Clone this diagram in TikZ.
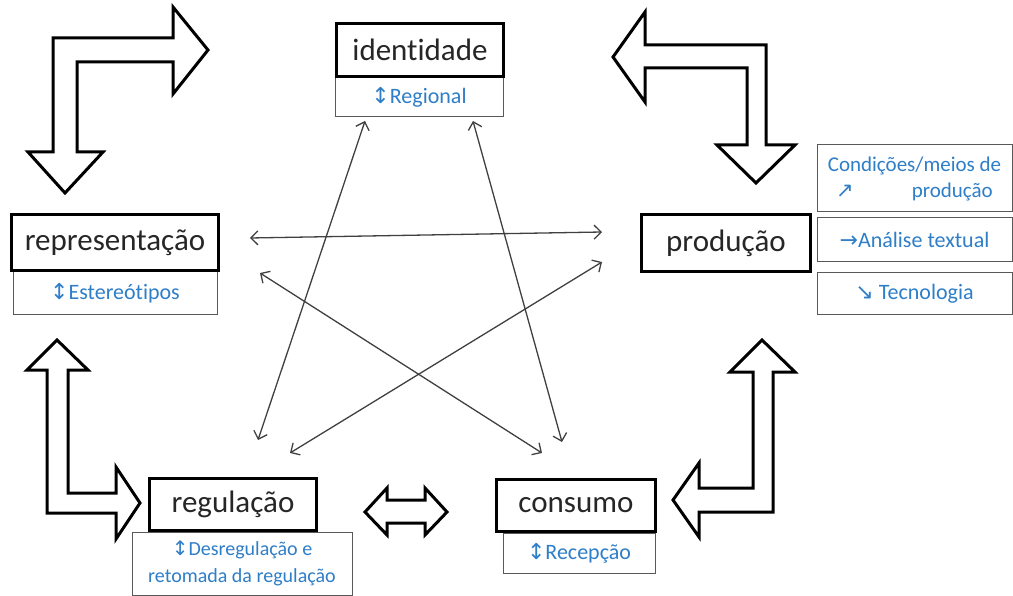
\documentclass[tikz,border=0pt]{standalone}
\usepackage{fontspec}
\setmainfont{Carlito}[Ligatures=NoCommon]
\newfontfamily\arrowfont{DejaVu Sans}
\usetikzlibrary{arrows.meta}
\definecolor{labelblue}{RGB}{46,126,200}
\definecolor{textgrey}{RGB}{38,38,38}
\begin{document}
\begin{tikzpicture}[x=1pt,y=-1pt,line join=miter,
	mainbox/.style={draw=black,line width=3.2pt,fill=white,inner sep=0pt,text=textgrey,font=\fontsize{31}{36}\selectfont},
	subbox/.style={draw=black!65,line width=1pt,fill=white,inner sep=0pt,text=labelblue,font=\fontsize{22}{26}\selectfont,align=center},
	link/.style={draw=black!75,line width=1.3pt,{Straight Barb[length=7pt,width=14pt]}-{Straight Barb[length=7pt,width=14pt]}},
	blockarrow/.style={draw=black,line width=3pt,fill=white}]
	\useasboundingbox (0,0) rectangle (1013,596);
	\node [subbox, minimum width=168, minimum height=39] (regional) at (419,97.5) {{\arrowfont↕}Regional};
	\node [subbox, minimum width=204, minimum height=43] (estereo) at (115,293.5) {{\arrowfont↕}Estereótipos};
	\node [subbox, minimum width=195, minimum height=67, font=\fontsize{21}{26}\selectfont] (condicoes) at (914.5,178.5) {Condições/meios de\\{\arrowfont↗}\hspace{58pt}produção};
	\node [subbox, minimum width=195, minimum height=44] (analise) at (914.5,240) {{\arrowfont→}Análise textual};
	\node [subbox, minimum width=195, minimum height=42] (tecno) at (914.5,294) {{\arrowfont↘} Tecnologia};
	\node [subbox, minimum width=220, minimum height=63, font=\fontsize{20}{27}\selectfont] (desreg) at (242,563.5) {{\arrowfont↕}Desregulação e\\retomada da regulação};
	\node [subbox, minimum width=152, minimum height=40] (recepcao) at (579,553) {{\arrowfont↕}Recepção};
	\node [mainbox, minimum width=167, minimum height=53] (ident) at (420,50) {identidade};
	\node [mainbox, minimum width=207, minimum height=56] (repr) at (115,242.5) {representação};
	\node [mainbox, minimum width=169, minimum height=57] (prod) at (726,243) {produção};
	\node [mainbox, minimum width=167, minimum height=52] (regul) at (233,504.5) {regulação};
	\node [mainbox, minimum width=159, minimum height=52] (cons) at (576,505.5) {consumo};
	\coordinate (id-l) at (365,121); \coordinate (id-r) at (473,121);
	\coordinate (rep-a) at (250,238); \coordinate (rep-b) at (260,273);
	\coordinate (prod-a) at (602,232); \coordinate (prod-b) at (602,262);
	\coordinate (reg-a) at (258,440); \coordinate (reg-b) at (290,453);
	\coordinate (con-a) at (542,453); \coordinate (con-b) at (562,442);
	\draw [link] (rep-a) -- (prod-a);
	\draw [link] (id-l) -- (reg-a);
	\draw [link] (id-r) -- (con-b);
	\draw [link] (rep-b) -- (con-a);
	\draw [link] (prod-b) -- (reg-b);
	\draw [blockarrow] (65,193) -- (103,152) -- (77,152) -- (77,62) -- (173,62) -- (173,94) -- (208,50) -- (173,7) -- (173,38) -- (53,38) -- (53,152) -- (28,152) -- cycle;
	\draw [blockarrow] (613,57) -- (645,12) -- (645,45) -- (766,45) -- (766,145) -- (795,145) -- (756,183) -- (717,145) -- (747,145) -- (747,68) -- (645,68) -- (645,102) -- cycle;
	\draw [blockarrow] (57,340) -- (88,370) -- (68,370) -- (68,493) -- (116,493) -- (116,467) -- (140,503) -- (116,539) -- (116,513) -- (47,513) -- (47,370) -- (27,370) -- cycle;
	\draw [blockarrow] (762,340) -- (795,372) -- (773,372) -- (773,512) -- (699,512) -- (699,537) -- (673,500) -- (699,463) -- (699,488) -- (753,488) -- (753,372) -- (730,372) -- cycle;
	\draw [blockarrow] (365,512) -- (387,488) -- (387,500) -- (425,500) -- (425,488) -- (447,512) -- (425,535) -- (425,523) -- (387,523) -- (387,535) -- cycle;
\end{tikzpicture}
\end{document}
